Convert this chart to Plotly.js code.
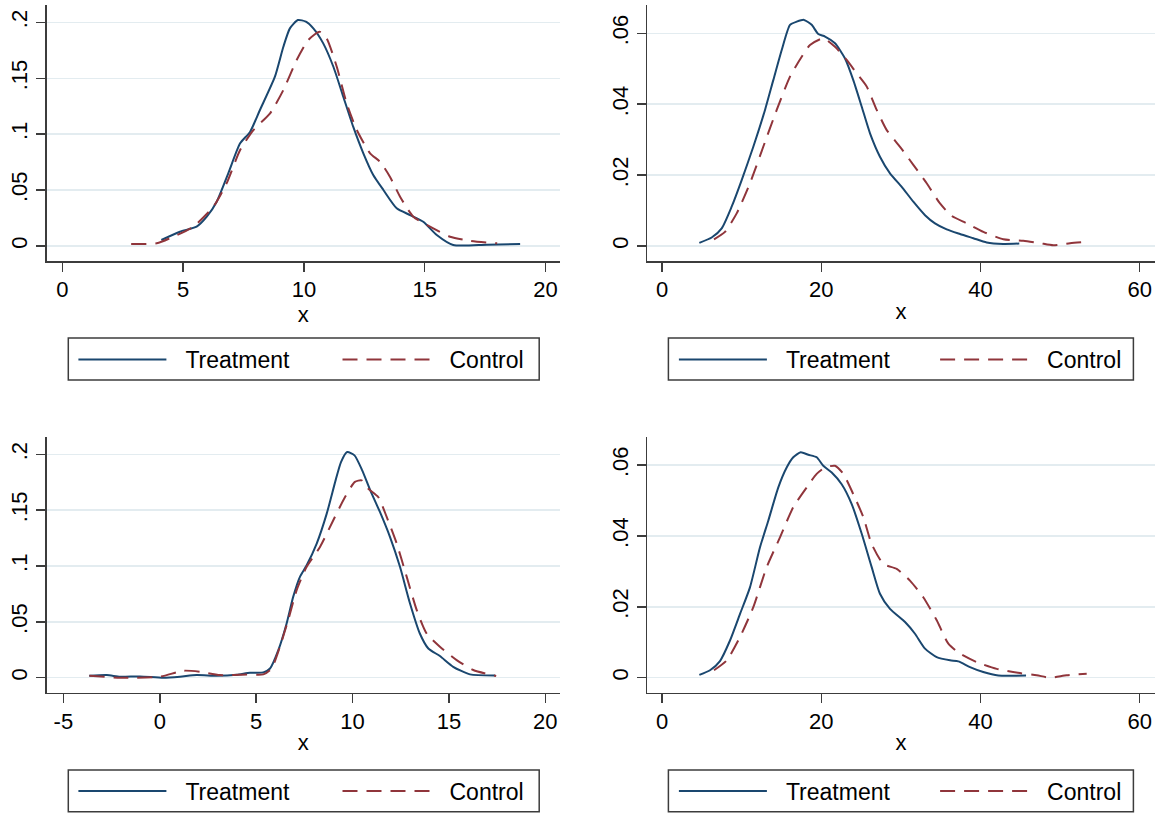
<!DOCTYPE html>
<html><head><meta charset="utf-8">
<script src="https://cdn.plot.ly/plotly-3.0.1.min.js"></script>
<style>html,body{margin:0;padding:0;background:#fff}#chart{width:1167px;height:814px}</style>
</head><body><div id="chart"></div>
<script>
// ---- Data (kernel density estimates) ----
var seriesNames = ['Treatment', 'Control'];

// Panel 1 (top-left)
var p1TreatX = [4.10,4.87,5.56,5.98,6.39,6.87,7.36,7.77,8.18,8.80,9.15,9.42,9.75,10.08,10.39,10.80,11.22,11.63,12.04,12.46,12.87,13.29,13.84,14.39,14.94,15.50,16.18,17.57,18.95];
var p1TreatY = [0.0054,0.0128,0.0173,0.0262,0.0396,0.065,0.0918,0.102,0.1216,0.1514,0.1782,0.1946,0.2021,0.2006,0.1946,0.1812,0.1603,0.1335,0.1067,0.0829,0.0635,0.0501,0.0337,0.0277,0.0217,0.0098,0.0009,0.0012,0.0018];
var p1CtrlX = [2.85,3.91,4.59,5.42,6.25,6.80,7.36,7.91,8.60,9.15,9.70,10.18,10.65,10.94,11.36,11.77,12.19,12.74,13.15,13.56,13.98,14.53,15.22,16.05,16.88,18.0];
var p1CtrlY = [0.0018,0.0024,0.0083,0.0173,0.0351,0.056,0.0858,0.1037,0.1186,0.1395,0.1663,0.1842,0.1916,0.1857,0.1603,0.1276,0.1037,0.0829,0.0754,0.062,0.0441,0.0262,0.0173,0.0083,0.0047,0.0024];

// Panel 2 (top-right)
var p2TreatX = [4.68,6.23,7.49,8.74,10.0,11.46,12.93,13.97,15.03,16.07,16.91,17.83,18.79,19.62,20.47,21.72,22.98,24.02,25.08,26.12,27.37,28.63,30.10,31.56,33.03,34.28,35.75,37.42,39.10,40.78,42.86,44.87];
var p2TreatY = [0.0009,0.0024,0.005,0.0111,0.0186,0.028,0.0384,0.0468,0.0553,0.0624,0.0633,0.0638,0.0624,0.0598,0.0591,0.0572,0.0529,0.0468,0.0393,0.0318,0.0252,0.0205,0.0167,0.0125,0.0087,0.0064,0.0047,0.0034,0.0022,0.001,0.0006,0.0007];
var p2CtrlX = [6.52,7.90,9.37,11.04,12.71,14.40,16.07,17.54,18.58,20.25,21.72,23.19,24.45,25.70,26.96,28.22,29.89,31.56,33.24,34.91,36.38,38.27,40.36,42.86,45.38,47.47,49.15,51.24,53.76];
var p2CtrlY = [0.0019,0.004,0.0092,0.0177,0.028,0.0384,0.0478,0.0534,0.0567,0.0586,0.0562,0.0525,0.0487,0.045,0.0384,0.0327,0.028,0.0229,0.0177,0.012,0.0085,0.0064,0.004,0.0019,0.0015,0.0008,0.0002,0.0008,0.0013];

// Panel 3 (bottom-left)
var p3TreatX = [-3.66,-2.75,-2.06,-1.03,0.18,1.05,1.91,2.95,3.99,4.68,5.37,5.72,6.15,6.58,6.92,7.27,7.62,8.14,8.66,9.12,9.40,9.72,10.10,10.50,10.92,11.42,11.94,12.46,12.98,13.49,13.93,14.53,15.22,16.09,17.40];
var p3TreatY = [0.0018,0.0024,0.0009,0.0012,0.0,0.0009,0.0024,0.0018,0.0027,0.0045,0.0048,0.0083,0.0247,0.0486,0.0724,0.0903,0.1007,0.1201,0.1469,0.1767,0.1931,0.2021,0.1991,0.1857,0.1678,0.1484,0.1261,0.0993,0.0665,0.0396,0.0262,0.0194,0.0098,0.003,0.0021];
var p3CtrlX = [-3.65,-2.06,0.01,1.22,2.08,3.12,4.51,5.37,5.80,6.23,6.66,7.10,7.62,8.31,9.00,9.61,10.12,10.47,10.81,11.33,11.77,12.29,12.81,13.33,13.84,14.53,15.40,16.26,17.45];
var p3CtrlY = [0.0018,0.0,0.0009,0.0063,0.0054,0.0024,0.003,0.003,0.0083,0.0277,0.0516,0.0784,0.0993,0.1171,0.141,0.1618,0.1753,0.1767,0.1693,0.1618,0.144,0.1201,0.0903,0.0605,0.0396,0.0277,0.0158,0.0069,0.0015];

// Panel 4 (bottom-right)
var p4TreatX = [4.68,6.02,7.27,8.53,9.79,11.04,12.30,13.34,14.60,15.65,16.48,17.41,18.37,19.42,20.25,21.31,22.56,23.82,25.08,26.33,27.37,28.63,30.52,31.77,33.03,34.50,36.17,37.21,38.68,40.35,42.24,45.72];
var p4TreatY = [0.0008,0.0021,0.0047,0.0105,0.018,0.0255,0.0368,0.0443,0.0537,0.0593,0.0622,0.0636,0.0629,0.0622,0.0598,0.0579,0.0546,0.049,0.0406,0.0312,0.0237,0.0194,0.0157,0.0124,0.0082,0.0058,0.0049,0.0046,0.003,0.0016,0.0006,0.0006];
var p4CtrlX = [6.52,8.12,9.79,11.46,13.14,14.81,16.48,18.17,19.42,20.47,21.72,22.77,24.02,25.28,26.33,27.79,29.47,31.14,32.81,34.50,35.96,37.42,39.52,42.04,44.96,47.06,48.73,50.83,53.34];
var p4CtrlY = [0.0021,0.0049,0.0115,0.0199,0.0312,0.0396,0.0481,0.0537,0.0575,0.0593,0.0598,0.0575,0.0518,0.0453,0.0377,0.0321,0.0307,0.0274,0.0227,0.0162,0.0096,0.0068,0.0044,0.0025,0.0013,0.0007,0.0,0.0007,0.0011];

// Tick labels
var xTicksA = [0,5,10,15,20];
var xTicksB = [0,20,40,60];
var xTicksC = [-5,0,5,10,15,20];
var yTicksA = [0,0.05,0.1,0.15,0.2];
var yTickTextA = ['0','.05','.1','.15','.2'];
var yTicksB = [0,0.02,0.04,0.06];
var yTickTextB = ['0','.02','.04','.06'];

// ---- Styling ----
var treatColor = '#1a476f';
var ctrlColor = '#90353b';
var axisColor = '#3c3c3c';
var gridColor = '#e3ecf0';
var fontFam = 'Arial, "Liberation Sans", sans-serif';
var W = 1167, H = 814;

function lineTrace(x, y, name, xa, ya, lg, dashed) {
  return {
    x: x, y: y, name: name, type: 'scatter', mode: 'lines',
    xaxis: xa, yaxis: ya, legend: lg, showlegend: true,
    line: {color: dashed ? ctrlColor : treatColor, width: 2, shape: 'spline', smoothing: 0.6,
           dash: dashed ? '15px,9px' : 'solid'},
    hoverinfo: 'skip'
  };
}

var data = [
  lineTrace(p1TreatX, p1TreatY, seriesNames[0], 'x', 'y', 'legend', false),
  lineTrace(p1CtrlX, p1CtrlY, seriesNames[1], 'x', 'y', 'legend2', true),
  lineTrace(p2TreatX, p2TreatY, seriesNames[0], 'x2', 'y2', 'legend3', false),
  lineTrace(p2CtrlX, p2CtrlY, seriesNames[1], 'x2', 'y2', 'legend4', true),
  lineTrace(p3TreatX, p3TreatY, seriesNames[0], 'x3', 'y3', 'legend5', false),
  lineTrace(p3CtrlX, p3CtrlY, seriesNames[1], 'x3', 'y3', 'legend6', true),
  lineTrace(p4TreatX, p4TreatY, seriesNames[0], 'x4', 'y4', 'legend7', false),
  lineTrace(p4CtrlX, p4CtrlY, seriesNames[1], 'x4', 'y4', 'legend8', true)
];

function xAxis(domain, range, ticks, anchor) {
  return {
    domain: domain, range: range, anchor: anchor,
    tickmode: 'array', tickvals: ticks, ticktext: ticks.map(String),
    showline: true, linecolor: axisColor, linewidth: 1.5,
    ticks: 'outside', ticklen: 9, tickwidth: 1.5, tickcolor: axisColor,
    showgrid: false, zeroline: false, ticklabelstandoff: -1,
    tickfont: {size: 22, color: '#000', family: fontFam},
    title: {text: 'x', font: {size: 22, color: '#000', family: fontFam}, standoff: 2},
    fixedrange: true
  };
}
function yAxis(domain, range, ticks, text, anchor) {
  return {
    domain: domain, range: range, anchor: anchor,
    tickmode: 'array', tickvals: ticks, ticktext: text, tickangle: -90,
    showline: true, linecolor: axisColor, linewidth: 1.5,
    ticks: 'outside', ticklen: 9, tickwidth: 1.5, tickcolor: axisColor,
    showgrid: true, gridcolor: gridColor, gridwidth: 1.5, zeroline: false,
    ticklabelstandoff: 0,
    tickfont: {size: 22, color: '#000', family: fontFam},
    fixedrange: true
  };
}
// one legend per entry, positioned in pixels (converted to paper fraction)
function legendCfg(px, pyCenter) {
  return {
    x: px / W, y: 1 - pyCenter / H, xanchor: 'left', yanchor: 'middle', orientation: 'h',
    bgcolor: 'rgba(0,0,0,0)', borderwidth: 0,
    font: {size: 23, color: '#000', family: fontFam},
    itemwidth: 102
  };
}
function boxShape(x0, x1, y0, y1) {
  return {type: 'rect', xref: 'paper', yref: 'paper', x0: x0 / W, x1: x1 / W, y0: 1 - y1 / H, y1: 1 - y0 / H,
          line: {color: axisColor, width: 1.5}, fillcolor: 'rgba(0,0,0,0)', layer: 'below'};
}

var colL = [46.6 / W, 560 / W], colR = [647.2 / W, 1154.6 / W];
var rowT = [1 - 261 / H, 1 - 5 / H], rowB = [1 - 692.7 / H, 1 - 436.7 / H];

var layout = {
  width: W, height: H,
  margin: {l: 0, r: 0, t: 0, b: 0},
  paper_bgcolor: '#ffffff', plot_bgcolor: '#ffffff',
  font: {family: fontFam, color: '#000'},
  xaxis: xAxis(colL, [-0.65, 20.6], xTicksA, 'y'),
  yaxis: yAxis(rowT, [-0.0134, 0.2155], yTicksA, yTickTextA, 'x'),
  xaxis2: xAxis(colR, [-1.87, 61.87], xTicksB, 'y2'),
  yaxis2: yAxis(rowT, [-0.00423, 0.068], yTicksB, yTickTextB, 'x2'),
  xaxis3: xAxis(colL, [-5.87, 20.76], xTicksC, 'y3'),
  yaxis3: yAxis(rowB, [-0.0134, 0.2158], yTicksA, yTickTextA, 'x3'),
  xaxis4: xAxis(colR, [-1.87, 61.87], xTicksB, 'y4'),
  yaxis4: yAxis(rowB, [-0.00423, 0.068], yTicksB, yTickTextB, 'x4'),
  legend:  legendCfg(73.4, 359.5),
  legend2: legendCfg(337.5, 359.5),
  legend3: legendCfg(673.9, 359.5),
  legend4: legendCfg(935.1, 359.5),
  legend5: legendCfg(73.4, 791),
  legend6: legendCfg(337.5, 791),
  legend7: legendCfg(673.9, 791),
  legend8: legendCfg(935.1, 791),
  shapes: [
    boxShape(68.3, 539.2, 338, 380),
    boxShape(668.4, 1133.4, 338, 380),
    boxShape(68.3, 539.2, 770, 811.7),
    boxShape(668.4, 1133.4, 770, 811.7)
  ],
  showlegend: true
};

Plotly.newPlot('chart', data, layout, {displayModeBar: false, staticPlot: true}).then(function () {
  // legend sample lines are 88px long in the reference, with a gap before the label
  var paths = document.querySelectorAll('.legendlines path');
  paths.forEach(function (p) { p.setAttribute('d', 'M5,0h88'); });
});
</script></body></html>
